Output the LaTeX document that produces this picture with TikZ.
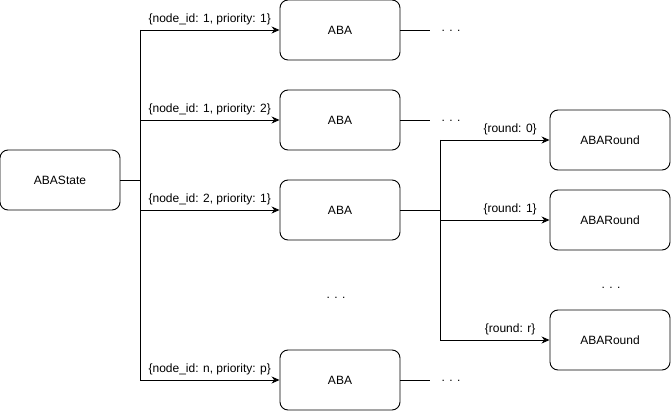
\documentclass[tikz,border=0pt]{standalone}
\usepackage{fontspec}
\setmainfont{Liberation Sans}
\usetikzlibrary{arrows.meta}

\tikzset{
  box/.style={draw, line width=0.9pt, rounded corners=8pt, minimum width=120pt, minimum height=60pt, font=\fontsize{12}{14}\selectfont},
  lbl/.style={font=\fontsize{12}{14}\selectfont, above=1pt},
  dots/.style={font=\fontsize{12}{14}\selectfont},
  arr/.style={line width=0.9pt, -{Stealth[length=8pt,width=7pt]}}
}

\begin{document}
\begin{tikzpicture}[x=1pt,y=-1pt]
\useasboundingbox (0,0) rectangle (671,411);

\node [box] (state) at (60,180) {ABAState};

\node [box] (aba1) at (340,30) {ABA};
\node [box] (aba2) at (340,120) {ABA};
\node [box] (aba3) at (340,210) {ABA};
\node [box] (aban) at (340,380) {ABA};

\node [box] (round0) at (610,140) {ABARound};
\node [box] (round1) at (610,220) {ABARound};
\node [box] (roundr) at (610,340) {ABARound};

\coordinate (busA) at (140,180);
\coordinate (busB) at (440,210);

\draw [line width=0.9pt] (state.east) -- (busA);
\draw [line width=0.9pt] (aba1.west -| busA) -- (aban.west -| busA);
\draw [arr] (aba1.west -| busA) -- node [lbl] {\{node\_id: 1, priority: 1\}} (aba1.west);
\draw [arr] (aba2.west -| busA) -- node [lbl] {\{node\_id: 1, priority: 2\}} (aba2.west);
\draw [arr] (aba3.west -| busA) -- node [lbl] {\{node\_id: 2, priority: 1\}} (aba3.west);
\draw [arr] (aban.west -| busA) -- node [lbl] {\{node\_id: n, priority: p\}} (aban.west);

\draw [line width=0.9pt] (aba3.east) -- (busB);
\draw [line width=0.9pt] (round0.west -| busB) -- (roundr.west -| busB);
\draw [arr] (round0.west -| busB) -- node [lbl, pos=0.64] {\{round: 0\}} (round0.west);
\draw [arr] (round1.west -| busB) -- node [lbl, pos=0.64] {\{round: 1\}} (round1.west);
\draw [arr] (roundr.west -| busB) -- node [lbl, pos=0.64] {\{round: r\}} (roundr.west);

\coordinate (end1) at (430,30);
\coordinate (end2) at (430,120);
\coordinate (endn) at (430,380);
\draw [line width=0.9pt] (aba1.east) -- (end1);
\draw [line width=0.9pt] (aba2.east) -- (end2);
\draw [line width=0.9pt] (aban.east) -- (endn);
\node [dots] (dots1) at (451,31) {. . .};
\node [dots] (dots2) at (451,121) {. . .};
\node [dots] (dotsn) at (451,381) {. . .};

\node [dots] (dotsaba) at (336,298) {. . .};
\node [dots] (dotsround) at (611,288) {. . .};
\end{tikzpicture}
\end{document}
